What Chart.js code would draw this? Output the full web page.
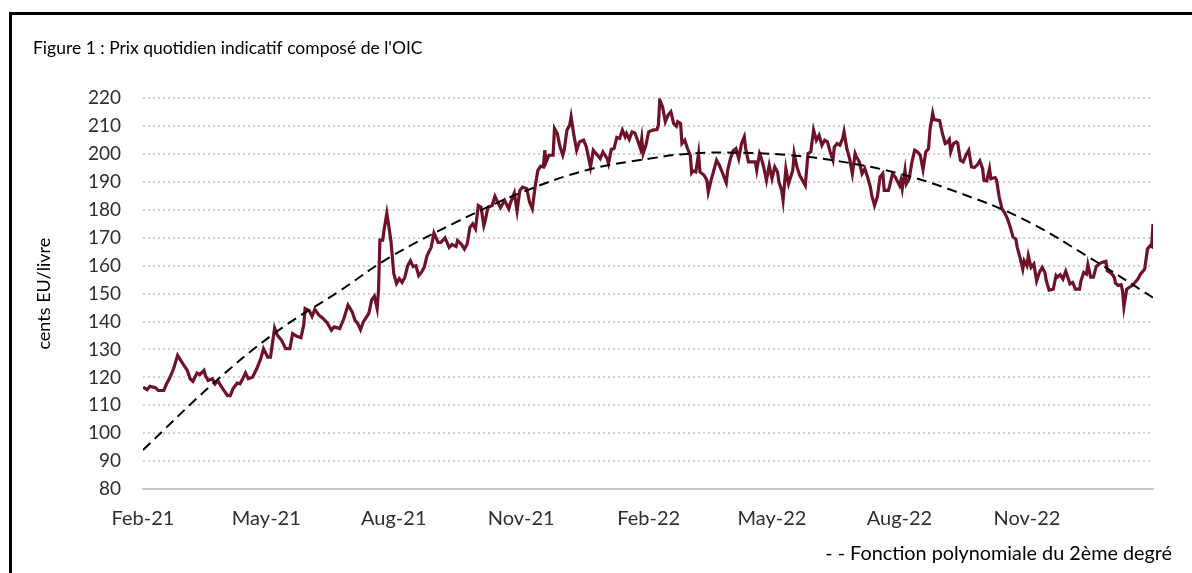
<!DOCTYPE html>
<html lang="fr">
<head>
<meta charset="utf-8">
<title>Prix quotidien indicatif composé de l'OIC</title>
<script src="https://cdn.jsdelivr.net/npm/chart.js@4.4.1/dist/chart.umd.min.js"></script>
<style>
  html, body { margin: 0; padding: 0; background: #fff; }
  #wrap { position: relative; width: 1192px; height: 573px; overflow: hidden; }
  #frame { position: absolute; left: 9px; top: 12px; right: -10px; bottom: -10px;
           border-left: 3px solid #000; border-top: 3px solid #000; pointer-events: none; }
  canvas { position: absolute; left: 0; top: 0; }
</style>
</head>
<body>
<div id="wrap">
  <canvas id="chart" width="1192" height="573"></canvas>
  <div id="frame"></div>
</div>
<script>
// x values are days since 1 Feb 2021
const startDate = Date.UTC(2021, 1, 1);
const dayOf = s => Math.round((Date.parse(s) - startDate) / 86400000);

const tickDates = ["2021-02-01", "2021-05-01", "2021-08-01", "2021-11-01",
                   "2022-02-01", "2022-05-01", "2022-08-01", "2022-11-01"];
const tickLabels = ["Feb-21", "May-21", "Aug-21", "Nov-21", "Feb-22", "May-22", "Aug-22", "Nov-22"];
const lastDay = 729;

const yMin = 80, yMax = 220, yStep = 10;

// daily composite price
const priceDays = [
  0,3,5,9,11,15,17,19,22,25,28,32,34,36,39,41,44,45,47,50,52,54,56,58,61,63,65,68,70,72,
  74,76,79,82,85,87,90,92,95,97,100,103,106,108,111,114,116,117,120,122,124,127,130,133,136,138,142,145,148,151,
  153,155,157,159,163,165,167,169,170,171,173,174,176,178,179,181,183,185,
  187,189,191,193,195,197,199,201,203,205,208,210,213,215,218,221,223,226,227,230,
  232,234,236,238,240,242,244,246,247,249,252,254,256,258,261,264,265,268,270,272,
  274,277,279,281,283,285,287,289,290,291,293,296,297,299,301,303,304,306,308,309,
  311,313,315,318,320,323,325,327,330,332,335,336,338,340,342,344,346,348,349,351,
  353,355,357,359,360,361,363,365,
  368,371,372,373,375,377,379,381,383,385,386,388,389,391,393,395,396,397,399,401,
  402,405,407,408,410,412,414,416,418,421,422,424,426,428,430,432,434,435,437,439,
  442,443,445,446,448,450,452,454,456,458,459,461,462,464,466,469,470,472,474,476,
  478,480,482,484,486,488,490,492,494,496,498,499,501,503,505,506,508,510,512,514,
  515,517,519,521,523,525,526,528,530,532,534,535,538,539,541,543,546,
  547,548,550,551,553,555,557,559,561,563,565,567,568,570,571,573,575,577,579,580,
  582,583,585,587,588,590,592,594,596,598,600,602,604,606,607,609,611,612,615,616,
  618,620,622,624,626,628,630,631,633,635,636,638,639,641,643,645,647,649,651,652,
  654,657,659,660,662,664,666,668,669,671,673,676,677,679,681,682,684,686,688,690,
  692,695,696,699,701,702,704,706,707,708,710,712,714,716,718,720,723,725,727,728,729
];
const priceValues = [
  116.5,115.6,116.8,116.3,115.3,115.3,117.7,119.5,123,127.9,125.5,122.5,119.5,118.6,121.6,121,122.5,120.7,118.9,119.5,
  117.7,118.9,117.1,115.6,113.5,113.5,116,118,117.7,119.5,121.6,119.5,120.1,123,126.7,130.3,127.3,127.3,137.7,135.1,
  133.3,130.3,130.3,135.7,134.7,134.2,138.7,144.7,143.9,141.9,144.4,142.3,141.1,139.5,136.9,138.1,137.5,141.1,145.9,143.5,
  140.5,139.3,137.1,139.9,142.9,147.7,149.1,144.7,151.3,169.2,169.2,172.8,178.8,172.2,168.6,157.2,153.7,155.4,
  154,155.9,160,161.8,159.7,160,156.5,157.7,159.5,163.6,166.6,171.7,168.4,168.4,170,166.6,167.6,166.9,169,167.6,
  166,167.8,173.8,175,173.2,181.6,181,174.4,176.2,181,181.6,184.9,182.8,180.8,183.4,180.4,182.2,186.1,179.6,187,
  188.2,187.6,182.8,180.4,188.2,194.2,195.7,195.4,201.4,197.2,199.6,199.6,209.2,207.4,202.6,199.6,201.4,208.6,210.4,213.4,
  206.8,201.4,204.4,205,202.6,195.4,201.4,200.2,198.4,200.8,198.4,196.6,201.7,202,206,205.6,208.6,206.2,207.4,205.3,
  208,207.6,205,202,205.6,200.2,203.2,208,
  208.6,208.8,210.4,219.4,217,211.6,214,215.2,211,210,211.6,211,203.8,205,202,199.6,193.3,194,193.6,200.2,
  193.6,192.4,190.6,186.4,190.6,194.2,197.8,196,193.6,189.7,194.2,198.4,201.2,202,198.4,203.8,206.2,202,197.2,197.2,
  197.2,194.2,200.2,199,195.4,190.6,196,191.2,195.4,193.6,190,187,183.4,194.8,189.4,194.2,200.2,195.4,192.4,190.6,
  188.8,200.2,200.8,208.6,205,206.8,203.2,205,204.4,200.8,197.8,202.6,203.8,203.2,205.6,208,202,198.4,193,200.2,
  199,197.2,193,194.8,191.8,188.2,185.2,181.6,184.6,191.8,193,187,187,188.8,193,191.8,188.8,
  190.6,187.6,194.2,189.4,191.2,197.2,201.4,200.8,199.6,194.5,200.8,202,208.6,214.6,212.4,212.2,212,207.4,203.8,204,
  205.3,200.8,203.8,204.4,204,197.8,197.2,199.6,201.4,195.4,195.2,196,197.6,194.8,190.6,190.4,194.8,191.2,191.6,190.9,
  184.6,180.4,178.9,176.8,173.8,170.2,169.6,166.6,163,158.8,161.8,160,163.6,159.4,160.6,154.6,157.6,159.4,157.6,154.6,
  151.3,151.6,156.5,155.9,156.8,155.2,158,155.2,153.5,154,151.6,151.6,154.6,157.6,157,160.4,155.9,155.9,159.7,160.6,
  161.2,161.6,158.2,157.3,155.9,153.7,152.9,153.2,151,145.3,151.6,152.3,152.9,154,155.2,157,158.8,166,167.2,166.9,175
];

// 2nd degree polynomial trend
const trendDays   = [0, 50, 94, 142, 178, 226, 274, 322, 366, 395, 431, 467, 503, 546, 587, 635, 683, 729];
const trendValues = [94, 117.5, 135.5, 151, 163, 175.6, 186.4, 194.5, 198.4, 200.2, 200.5, 199.6, 197.4, 193, 186.5, 176.8, 163, 148.6];

const toPoints = (xs, ys) => xs.map((x, i) => ({ x: x, y: ys[i] }));
const labelByDay = {};
tickDates.forEach((d, i) => (labelByDay[dayOf(d)] = tickLabels[i]));

Chart.defaults.font.family = "Lato, 'Open Sans', sans-serif";

new Chart(document.getElementById("chart"), {
  type: "line",
  data: {
    datasets: [{
      label: "Prix composé de l'OIC",
      data: toPoints(priceDays, priceValues),
      borderColor: "#6f1129",
      borderWidth: 3.2,
      pointRadius: 0,
      tension: 0,
      order: 2
    }, {
      label: "Fonction polynomiale du 2ème degré",
      data: toPoints(trendDays, trendValues),
      borderColor: "#000",
      borderWidth: 2,
      borderDash: [10, 6],
      pointRadius: 0,
      tension: 0.4,
      order: 1
    }]
  },
  options: {
    responsive: false,
    animation: false,
    devicePixelRatio: 1,
    layout: { padding: { left: 33, right: 20, top: 0, bottom: 0 } },
    plugins: {
      legend: { display: false },
      tooltip: { enabled: false },
      title: {
        display: true,
        text: "Figure 1 : Prix quotidien indicatif composé de l'OIC",
        align: "start",
        color: "#000",
        font: { size: 17.5, weight: "normal" },
        padding: { top: 37.5, bottom: 39.8 }
      },
      subtitle: {
        display: true,
        position: "bottom",
        align: "end",
        text: "- - Fonction polynomiale du 2ème degré",
        color: "#000",
        font: { size: 19.8, weight: "normal" },
        padding: { top: 11.6, bottom: 7.1 }
      }
    },
    scales: {
      x: {
        type: "linear",
        min: 0,
        max: lastDay,
        grid: { display: false, drawTicks: false },
        border: { display: true, color: "#c8c8c8", width: 2 },
        afterBuildTicks: s => { s.ticks = tickDates.map(d => ({ value: dayOf(d) })); },
        afterFit: s => { s.height = 41.5; },
        ticks: {
          padding: 17.5,
          maxRotation: 0,
          autoSkip: false,
          color: "#2e2e2e",
          font: { size: 20 },
          callback: v => labelByDay[v] || ""
        }
      },
      y: {
        min: yMin,
        max: yMax,
        afterFit: s => { s.width = 110; },
        border: { display: false, dash: [2, 3] },
        grid: { color: "#d0d0d0", lineWidth: 2, drawTicks: false },
        ticks: { stepSize: yStep, padding: 22, color: "#2e2e2e", font: { size: 19 } },
        title: {
          display: true,
          text: "cents EU/livre",
          color: "#000",
          font: { size: 18 },
          padding: 0
        }
      },
      // empty right-hand strip so the plot stops short of the legend text
      yRight: {
        position: "right",
        grid: { display: false, drawTicks: false },
        border: { display: false },
        ticks: { display: false },
        afterFit: s => { s.width = 19; }
      }
    }
  }
});
</script>
</body>
</html>
